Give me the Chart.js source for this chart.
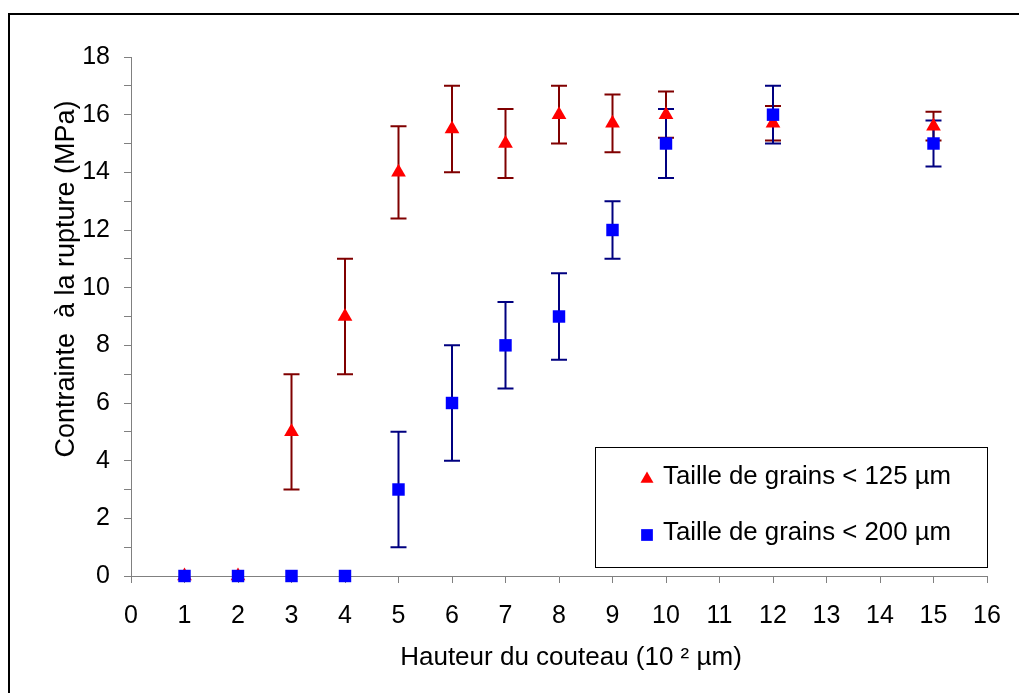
<!DOCTYPE html>
<html>
<head>
<meta charset="utf-8">
<script src="https://cdn.jsdelivr.net/npm/chart.js@4.4.1/dist/chart.umd.min.js"></script>
<style>
  html, body { margin: 0; padding: 0; background: #fff; overflow: hidden; }
  #frame { position: absolute; left: 8px; top: 13px; width: 1100px; height: 800px; border: 2px solid #000; }
  #wrap { position: absolute; left: 0; top: 0; width: 1019px; height: 693px; }
</style>
</head>
<body>
<div id="frame"></div>
<div id="wrap"><canvas id="chart"></canvas></div>
<script>
// knife height (10^2 µm)
const heights = [1, 2, 3, 4, 5, 6, 7, 8, 9, 10, 12, 15];

// grain size < 125 µm
const stress125 = [0, 0, 5, 9, 14, 15.5, 15, 16, 15.7, 16, 15.7, 15.6];
const err125 = [0, 0, 2, 2, 1.6, 1.5, 1.2, 1.0, 1.0, 0.8, 0.6, 0.5];

// grain size < 200 µm
const stress200 = [0, 0, 0, 0, 3, 6, 8, 9, 12, 15, 16, 15];
const err200 = [0, 0, 0, 0, 2, 2, 1.5, 1.5, 1.0, 1.2, 1.0, 0.8];

const seriesLabels = ['Taille de grains < 125 µm', 'Taille de grains < 200 µm'];
const xTitle = 'Hauteur du couteau (10 ² µm)';
const yTitle = 'Contrainte  à la rupture (MPa)';

const FONT = 'Liberation Sans, Arial, sans-serif';
const TRI_R = 8.5;
const SQ_R = 8.8;

const toPoints = (ys) => heights.map((x, i) => ({ x: x, y: ys[i] }));

const errorBars = {
  id: 'errorBars',
  beforeDatasetsDraw(chart) {
    const { ctx, scales: { x, y } } = chart;
    ctx.save();
    ctx.lineWidth = 2;
    chart.data.datasets.forEach((ds) => {
      ctx.strokeStyle = ds.errColor;
      ds.data.forEach((p, i) => {
        const e = ds.err[i];
        if (!e) return;
        const px = x.getPixelForValue(p.x);
        const top = y.getPixelForValue(p.y + e);
        const bot = y.getPixelForValue(p.y - e);
        ctx.beginPath();
        ctx.moveTo(px, top); ctx.lineTo(px, bot);
        ctx.moveTo(px - 8, top); ctx.lineTo(px + 8, top);
        ctx.moveTo(px - 8, bot); ctx.lineTo(px + 8, bot);
        ctx.stroke();
      });
    });
    ctx.restore();
  }
};

const extras = {
  id: 'extras',
  afterDraw(chart) {
    const { ctx, chartArea: a } = chart;
    ctx.save();
    ctx.fillStyle = '#000';
    ctx.textAlign = 'center';
    ctx.textBaseline = 'alphabetic';
    // x axis title
    ctx.font = '26px ' + FONT;
    ctx.fillText(xTitle, a.left + 440, a.bottom + 89);
    // y axis title
    ctx.font = '27px ' + FONT;
    ctx.save();
    ctx.translate(a.left - 57, a.top + 222);
    ctx.rotate(-Math.PI / 2);
    ctx.fillText(yTitle, 0, 0);
    ctx.restore();

    // legend box
    const bx = a.right - 392, by = a.bottom - 129;
    ctx.strokeStyle = '#000';
    ctx.lineWidth = 1;
    ctx.strokeRect(bx + 0.5, by + 0.5, 392, 120);
    ctx.font = '25.8px ' + FONT;
    ctx.textAlign = 'left';
    chart.data.datasets.forEach((ds, i) => {
      const cy = by + 32 + i * 56;
      ctx.fillStyle = ds.backgroundColor;
      Chart.helpers.drawPoint(ctx, { pointStyle: ds.pointStyle, radius: ds.pointStyle === 'triangle' ? 7.5 : 8.3, rotation: 0, borderWidth: 0 }, bx + 52, cy);
      ctx.fillStyle = '#000';
      ctx.fillText(seriesLabels[i], bx + 68, cy + 5);
    });
    ctx.restore();
  }
};

new Chart(document.getElementById('chart'), {
  type: 'scatter',
  data: {
    datasets: [
      {
        label: seriesLabels[0],
        data: toPoints(stress125),
        err: err125,
        errColor: '#800000',
        pointStyle: 'triangle',
        pointRadius: TRI_R,
        pointHoverRadius: TRI_R,
        backgroundColor: '#ff0000',
        borderColor: '#ff0000',
        borderWidth: 0,
        clip: false,
        order: 2
      },
      {
        label: seriesLabels[1],
        data: toPoints(stress200),
        err: err200,
        errColor: '#000080',
        pointStyle: 'rect',
        pointRadius: SQ_R,
        pointHoverRadius: SQ_R,
        backgroundColor: '#0000ff',
        borderColor: '#0000ff',
        borderWidth: 0,
        clip: false,
        order: 1
      }
    ]
  },
  options: {
    responsive: true,
    maintainAspectRatio: false,
    animation: false,
    layout: { padding: { top: 57, right: 32, left: 0, bottom: 0 } },
    plugins: { legend: { display: false }, tooltip: { enabled: false } },
    scales: {
      x: {
        type: 'linear',
        min: 0,
        max: 16,
        afterFit: (s) => { s.height = 117; },
        border: { display: true, color: '#808080', width: 1 },
        grid: { drawOnChartArea: false, drawTicks: true, tickLength: 7, color: '#808080' },
        ticks: { stepSize: 1, autoSkip: false, padding: 18, color: '#000', font: { family: FONT, size: 25 } }
      },
      y: {
        min: 0,
        max: 18,
        afterFit: (s) => { s.width = 131; },
        border: { display: true, color: '#808080', width: 1 },
        grid: { drawOnChartArea: false, drawTicks: true, tickLength: 7, color: '#808080' },
        ticks: {
          stepSize: 1,
          autoSkip: false,
          padding: 14,
          color: '#000',
          font: { family: FONT, size: 25 },
          callback: (v) => (v % 2 === 0 ? v : '')
        }
      }
    }
  },
  plugins: [errorBars, extras]
});
</script>
</body>
</html>
